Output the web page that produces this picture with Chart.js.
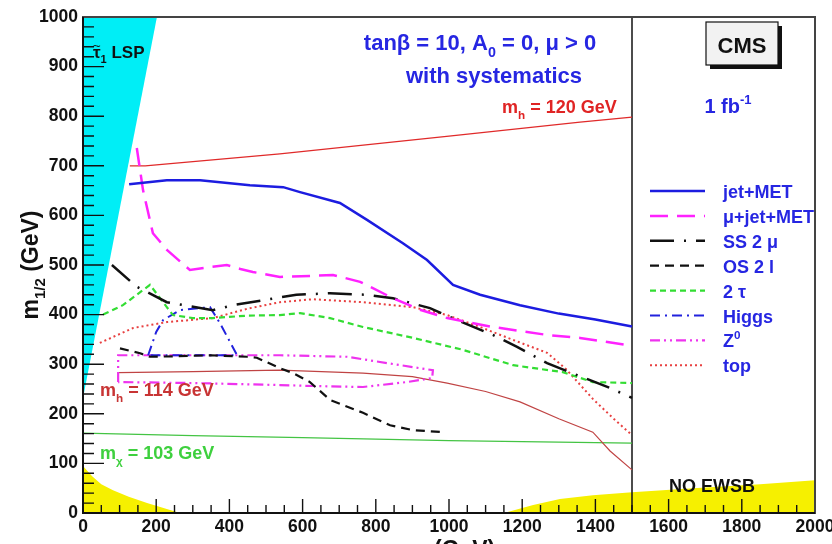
<!DOCTYPE html>
<html>
<head>
<meta charset="utf-8">
<script src="https://cdn.jsdelivr.net/npm/chart.js@4.4.1/dist/chart.umd.min.js"></script>
<style>
  html, body { margin: 0; padding: 0; background: #fff; }
  #wrap { width: 832px; height: 544px; }
</style>
</head>
<body>
<div id="wrap"><canvas id="reach" width="832" height="544"></canvas></div>
<script>
// axis ranges and ticks (GeV)
const xTickValues = [0, 200, 400, 600, 800, 1000, 1200, 1400, 1600, 1800, 2000];
const yTickValues = [0, 100, 200, 300, 400, 500, 600, 700, 800, 900, 1000];
const xMinorStep = 50;
const yMinorStep = 20;

// excluded regions, [m0, m1/2]
const stauLsp = [[0, 232], [202, 1000]];
const noEwsbLow = [[0, 95], [25, 74], [50, 58], [82, 46], [125, 33], [175, 20], [238, 6], [265, 0]];
const noEwsbHigh = [[1150, 0], [1230, 16], [1303, 28], [1393, 36], [1500, 42], [1667, 50], [1850, 58], [2000, 66]];
const ewsbEdge = [[1500, 0], [1500, 1000]];

// 5 sigma reach contours for 1 fb-1
const jetMet = [[126, 663], [229, 671], [320, 671], [456, 661], [547, 657], [593, 647], [702, 625], [776, 591],
  [874, 544], [940, 510], [1011, 460], [1085, 440], [1194, 419], [1300, 402], [1400, 390], [1500, 376]];
const muJetMet = [[147, 736], [164, 651], [191, 564], [230, 530], [292, 490], [350, 496], [393, 500], [430, 492],
  [464, 486], [538, 476], [620, 478], [683, 480], [757, 466], [847, 433], [920, 410], [995, 393], [1120, 375],
  [1268, 359], [1358, 353], [1500, 337]];
const ss2mu = [[79, 500], [147, 456], [229, 425], [355, 409], [410, 419], [492, 429], [583, 440], [675, 443],
  [775, 440], [847, 433], [948, 413], [1022, 389], [1120, 359], [1186, 335], [1268, 302], [1350, 278],
  [1440, 252], [1500, 232]];
const os2l = [[101, 332], [156, 322], [183, 315], [250, 316], [350, 318], [448, 315], [475, 313], [538, 292],
  [574, 282], [620, 264], [675, 228], [765, 202], [839, 177], [902, 167], [984, 163]];
const tau2 = [[55, 400], [109, 419], [183, 460], [229, 415], [246, 399], [300, 393], [355, 393], [450, 398],
  [538, 399], [593, 403], [675, 393], [765, 375], [902, 353], [1038, 329], [1175, 298], [1311, 284],
  [1393, 264], [1500, 262]];
const higgs = [[178, 318], [200, 365], [219, 389], [265, 409], [347, 415], [374, 383], [421, 318], [178, 318]];
const z0 = [[96, 264], [96, 318], [300, 318], [538, 318], [721, 315], [902, 294], [956, 288], [954, 272],
  [885, 264], [765, 254], [628, 256], [538, 258], [300, 262], [96, 264]];
const topQuark = [[46, 343], [137, 373], [229, 385], [355, 393], [450, 412], [538, 425], [628, 431], [765, 425],
  [902, 415], [995, 399], [1085, 375], [1175, 349], [1268, 323], [1320, 290], [1393, 230], [1450, 190], [1500, 157]];

// LEP limit contours
const mh120 = [[128, 700], [170, 700], [538, 724], [1000, 760], [1358, 788], [1500, 798]];
const mh114 = [[96, 283], [300, 285], [538, 288], [765, 282], [900, 275], [995, 262], [1100, 245], [1194, 224],
  [1300, 190], [1393, 163], [1440, 125], [1500, 87]];
const mchi103 = [[0, 161], [300, 156], [600, 152], [1000, 146], [1500, 141]];

const FONT = '"Liberation Sans", Arial, sans-serif';
const BLUE_TXT = '#2626e2';

function pts(list) {
  return list.map(([x, y]) => ({ x, y }));
}

function curve(list, color, width, dash, legendParts) {
  return {
    data: pts(list),
    borderColor: color,
    borderWidth: width,
    borderDash: dash,
    pointRadius: 0,
    fill: false,
    tension: 0,
    order: 0,
    legendParts
  };
}

function region(list, color, fill) {
  return {
    data: pts(list),
    borderColor: color,
    borderWidth: 0,
    backgroundColor: color,
    pointRadius: 0,
    fill,
    tension: 0,
    order: 5
  };
}

// text with sub/superscripts: plain strings, {sub: '..'}, {sup: '..'} or {tilde: '..'}
function richText(ctx, parts, x, y, size, color, align) {
  let total = 0;
  const runs = parts.map(p => {
    let txt = p, s = size, dy = 0, tilde = false;
    if (typeof p === 'object') {
      if (p.tilde) {
        txt = p.tilde;
        tilde = true;
      } else {
        txt = p.sub || p.sup;
        s = size * 0.65;
        dy = p.sub ? size * 0.32 : -size * 0.45;
      }
    }
    ctx.font = `bold ${s}px ${FONT}`;
    const w = ctx.measureText(txt).width;
    total += w;
    return { txt, s, dy, w, tilde };
  });
  let cx = align === 'center' ? x - total / 2 : align === 'right' ? x - total : x;
  ctx.fillStyle = color;
  ctx.textAlign = 'left';
  ctx.textBaseline = 'alphabetic';
  runs.forEach(r => {
    ctx.font = `bold ${r.s}px ${FONT}`;
    ctx.fillText(r.txt, cx, y + r.dy);
    if (r.tilde) {
      ctx.font = `${r.s * 0.8}px ${FONT}`;
      ctx.textAlign = 'center';
      ctx.fillText('~', cx + r.w / 2, y - r.s * 0.5);
      ctx.textAlign = 'left';
    }
    cx += r.w;
  });
}

const frameAndTicks = {
  id: 'frameAndTicks',
  afterDatasetsDraw(chart) {
    const { ctx, chartArea: a, scales: { x, y } } = chart;
    ctx.save();
    ctx.strokeStyle = '#111';
    ctx.lineWidth = 1.4;
    ctx.beginPath();
    for (let v = x.min; v <= x.max; v += xMinorStep) {
      const px = x.getPixelForValue(v);
      const len = xTickValues.includes(v) ? 14 : 8;
      ctx.moveTo(px, a.bottom);
      ctx.lineTo(px, a.bottom - len);
    }
    for (let v = y.min; v <= y.max; v += yMinorStep) {
      const py = y.getPixelForValue(v);
      const len = yTickValues.includes(v) ? 21 : 11;
      ctx.moveTo(a.left, py);
      ctx.lineTo(a.left + len, py);
    }
    ctx.stroke();
    ctx.lineWidth = 2;
    ctx.strokeStyle = '#444';
    ctx.strokeRect(a.left, a.top, a.right - a.left, a.bottom - a.top);
    ctx.strokeStyle = '#111';
    ctx.beginPath();
    ctx.moveTo(a.left, a.top);
    ctx.lineTo(a.left, a.bottom);
    ctx.lineTo(a.right, a.bottom);
    ctx.stroke();
    ctx.restore();
  },
  afterDraw(chart) {
    const { ctx, chartArea: a } = chart;
    ctx.save();

    // axis titles
    richText(ctx, ['m', { sub: '0' }, ' (GeV)'], 447, 557, 23, '#111', 'center');
    ctx.save();
    ctx.translate(38, (a.top + a.bottom) / 2);
    ctx.rotate(-Math.PI / 2);
    richText(ctx, ['m', { sub: '1/2' }, ' (GeV)'], 0, 0, 23, '#111', 'center');
    ctx.restore();

    // annotations
    richText(ctx, [{ tilde: 'τ' }, { sub: '1' }, ' LSP'], 93, 58, 17, '#111', 'left');
    richText(ctx, ['tanβ = 10, A', { sub: '0' }, ' = 0, μ > 0'], 480, 50, 22, BLUE_TXT, 'center');
    richText(ctx, ['with systematics'], 494, 83, 22, BLUE_TXT, 'center');
    richText(ctx, ['m', { sub: 'h' }, ' = 120 GeV'], 502, 113, 18, '#e02424', 'left');
    richText(ctx, ['m', { sub: 'h' }, ' = 114 GeV'], 100, 396, 18, '#c83434', 'left');
    richText(ctx, ['m', { sub: 'χ' }, ' = 103 GeV'], 100, 459, 18, '#3ed03e', 'left');
    richText(ctx, ['NO EWSB'], 712, 492, 18, '#111', 'center');

    // CMS box
    ctx.fillStyle = '#111';
    ctx.fillRect(710, 26, 72, 43);
    ctx.fillStyle = '#f2f2f2';
    ctx.fillRect(706, 22, 72, 43);
    ctx.strokeStyle = '#111';
    ctx.lineWidth = 1.2;
    ctx.strokeRect(706, 22, 72, 43);
    richText(ctx, ['CMS'], 742, 53, 22, '#111', 'center');
    richText(ctx, ['1 fb', { sup: '-1' }], 728, 113, 20, BLUE_TXT, 'center');

    // legend
    let row = 0;
    chart.data.datasets.forEach(ds => {
      if (!ds.legendParts) return;
      const ly = 191 + row * 24.9;
      ctx.save();
      ctx.strokeStyle = ds.borderColor;
      ctx.lineWidth = ds.borderWidth;
      ctx.setLineDash(ds.borderDash || []);
      ctx.beginPath();
      ctx.moveTo(650, ly);
      ctx.lineTo(705, ly);
      ctx.stroke();
      ctx.restore();
      richText(ctx, ds.legendParts, 723, ly + 7, 18, BLUE_TXT, 'left');
      row++;
    });
    ctx.restore();
  }
};

const datasets = [
  curve(jetMet, '#1c1ce0', 2.5, [], ['jet+MET']),
  curve(muJetMet, '#ff22ff', 2.5, [18, 9], ['μ+jet+MET']),
  curve(ss2mu, '#111111', 2.5, [24, 10, 2, 10], ['SS 2 μ']),
  curve(os2l, '#111111', 2.2, [9, 6], ['OS 2 l']),
  curve(tau2, '#33dd33', 2.2, [6, 4], ['2 τ']),
  curve(higgs, '#2222dd', 2, [10, 5, 2, 5], ['Higgs']),
  curve(z0, '#ee33ee', 2.2, [10, 4, 2, 4, 2, 4], ['Z', { sup: '0' }]),
  curve(topQuark, '#e84040', 2, [2, 3], ['top']),
  curve(mh120, '#e02a2a', 1.2, []),
  curve(mh114, '#c04444', 1.2, []),
  curve(mchi103, '#44c444', 1.2, []),
  Object.assign(curve(ewsbEdge, '#111111', 1.5, []), { order: 1 }),
  region(stauLsp, '#00eef6', 'end'),
  region(noEwsbLow, '#f6f000', 'start'),
  region(noEwsbHigh, '#f6f000', 'start')
];

const tickFont = { family: FONT, size: 17.5, weight: 'bold' };
const plainNumber = v => String(v);

new Chart(document.getElementById('reach'), {
  type: 'line',
  data: { datasets },
  options: {
    responsive: false,
    animation: false,
    layout: { padding: { left: 0, right: 17, top: 17, bottom: 0 } },
    plugins: { legend: { display: false }, tooltip: { enabled: false } },
    scales: {
      x: {
        type: 'linear',
        min: 0,
        max: 2000,
        afterBuildTicks: s => { s.ticks = xTickValues.map(v => ({ value: v })); },
        afterFit: s => { s.height = 31; s.paddingLeft = 0; s.paddingRight = 0; },
        ticks: { font: tickFont, color: '#111', padding: 4, maxRotation: 0, autoSkip: false, callback: plainNumber },
        grid: { display: false, drawTicks: false },
        border: { display: false }
      },
      y: {
        type: 'linear',
        min: 0,
        max: 1000,
        afterBuildTicks: s => { s.ticks = yTickValues.map(v => ({ value: v })); },
        afterFit: s => { s.width = 83; s.paddingTop = 0; s.paddingBottom = 0; },
        ticks: { font: tickFont, color: '#111', padding: 5, autoSkip: false, callback: plainNumber },
        grid: { display: false, drawTicks: false },
        border: { display: false }
      }
    }
  },
  plugins: [frameAndTicks]
});
</script>
</body>
</html>
